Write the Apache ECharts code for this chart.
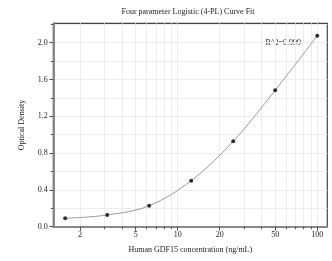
<!DOCTYPE html>
<html>
<head>
<meta charset="utf-8">
<script src="https://cdn.jsdelivr.net/npm/echarts@6/dist/echarts.min.js"></script>
<style>html,body{margin:0;padding:0;background:#fff;}#c{width:332px;height:261px;}</style>
</head>
<body>
<div id="c"></div>
<script>
// Data
var concentrations = [1.5625, 3.125, 6.25, 12.5, 25, 50, 100];
var opticalDensity = [0.091, 0.127, 0.228, 0.5, 0.928, 1.483, 2.076];
var xLabelValues = [2, 5, 10, 20, 50, 100];
var xMinorValues = [2, 3, 4, 5, 6, 7, 8, 9, 10, 20, 30, 40, 50, 60, 70, 80, 90, 100];
var yLabelValues = [0, 0.4, 0.8, 1.2, 1.6, 2.0];
var yMinorValues = [0, 0.2, 0.4, 0.6, 0.8, 1.0, 1.2, 1.4, 1.6, 1.8, 2.0, 2.2];
var titleText = 'Four parameter Logistic (4-PL) Curve Fit';
var r2Text = 'R^2=0.999';
var xName = 'Human GDF15 concentration (ng/mL)';
var yName = 'Optical Density';

var lg = function (v) { return Math.log10(v); };
var points = concentrations.map(function (c, i) { return [lg(c), opticalDensity[i]]; });
var font = 'Liberation Serif';
var txt = '#222';
var xMin = 0.1089, xMax = 2.072;

var chart = echarts.init(document.getElementById('c'), null, {renderer: 'canvas'});
chart.setOption({
  animation: false,
  grid: {left: 53.3, right: 4.7, top: 23.3, bottom: 34.3, show: true, borderColor: '#444', borderWidth: 1.2, backgroundColor: 'transparent'},
  xAxis: [{
    type: 'value', min: xMin, max: xMax, position: 'bottom',
    name: xName, nameLocation: 'middle', nameGap: 19,
    nameTextStyle: {fontFamily: font, fontSize: 8, color: txt},
    axisLine: {show: true, onZero: false, lineStyle: {color: '#888', width: 2}},
    axisTick: {show: true, length: 4, customValues: xLabelValues.map(lg), lineStyle: {color: '#555', width: 1}},
    axisLabel: {show: true, margin: 4, customValues: xLabelValues.map(lg), fontFamily: font, fontSize: 8, color: txt,
      formatter: function (v) { return String(Math.round(Math.pow(10, v))); }},
    splitLine: {show: false}
  }, {
    type: 'value', min: xMin, max: xMax, position: 'bottom', offset: 0,
    axisLine: {show: false, onZero: false},
    axisTick: {show: true, length: 2.5, customValues: xMinorValues.map(lg), lineStyle: {color: '#555', width: 1}},
    axisLabel: {show: false},
    splitLine: {show: true, lineStyle: {color: '#ececec', width: 1}}
  }],
  yAxis: [{
    type: 'value', min: 0, max: 2.21, position: 'left',
    name: yName, nameLocation: 'middle', nameGap: 27,
    nameTextStyle: {fontFamily: font, fontSize: 8, color: txt},
    axisLine: {show: true, onZero: false, lineStyle: {color: '#888', width: 2}},
    axisTick: {show: true, length: 4, customValues: yLabelValues, lineStyle: {color: '#555', width: 1}},
    axisLabel: {show: true, margin: 5.5, customValues: yLabelValues, fontFamily: font, fontSize: 8, color: txt,
      formatter: function (v) { return v.toFixed(1); }},
    splitLine: {show: false}
  }, {
    type: 'value', min: 0, max: 2.21, position: 'left', offset: 0,
    axisLine: {show: false, onZero: false},
    axisTick: {show: true, length: 2.5, customValues: yMinorValues, lineStyle: {color: '#555', width: 1}},
    axisLabel: {show: false},
    splitLine: {show: true, lineStyle: {color: '#ececec', width: 1}}
  }],
  graphic: [
    {type: 'text', x: 188, y: 11.7, style: {text: titleText, fontFamily: font, fontSize: 8, fill: txt, align: 'center', verticalAlign: 'middle'}},
    {type: 'text', x: 265.5, y: 42.7, style: {text: r2Text, fontFamily: font, fontSize: 8, fill: txt, align: 'left', verticalAlign: 'middle'}}
  ],
  series: [{
    type: 'line', xAxisIndex: 0, yAxisIndex: 0, data: points, smooth: 0.35, symbol: 'none',
    lineStyle: {color: '#9a9a9a', width: 1}, z: 2
  }, {
    type: 'scatter', xAxisIndex: 0, yAxisIndex: 0, data: points, symbol: 'circle', symbolSize: 4,
    itemStyle: {color: '#000'}, z: 3
  }]
});
</script>
</body>
</html>
